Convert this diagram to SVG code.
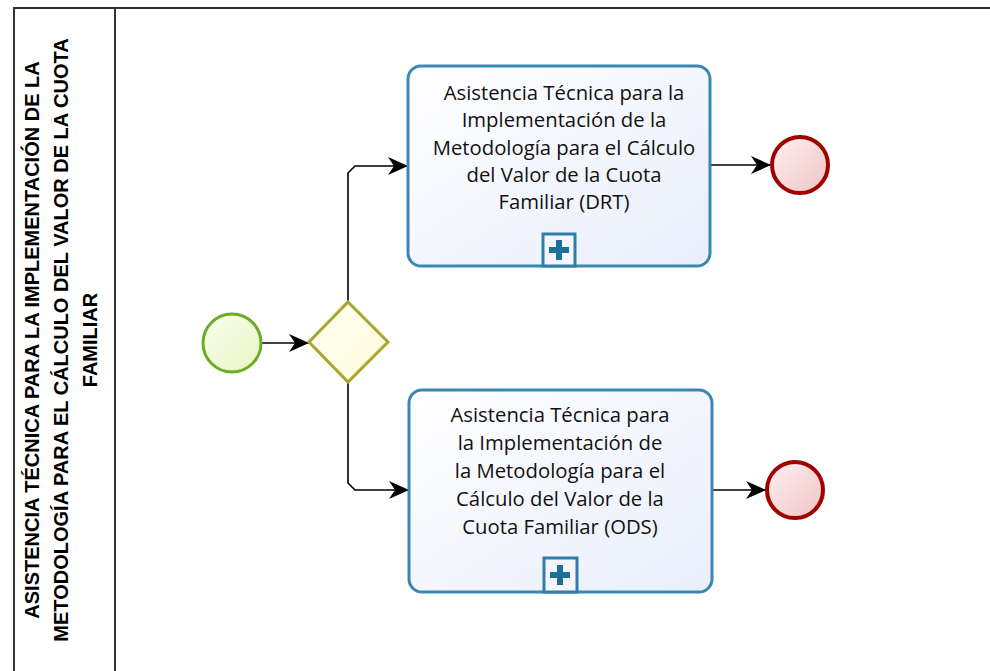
<svg xmlns="http://www.w3.org/2000/svg" width="990" height="671" viewBox="0 0 990 671">
<defs>
<style>
.pool{fill:none;stroke:#333;stroke-width:2}
.lane{font-family:"Liberation Sans",Arial,sans-serif;font-weight:bold;font-size:20px;fill:#000;text-anchor:middle}
.task{fill:url(#gTask);stroke:#3a87b3;stroke-width:3}
.tt{font-family:"Open Sans","DejaVu Sans",sans-serif;font-size:20.3px;fill:#111;text-anchor:middle}
.flow{fill:none;stroke:#000;stroke-width:1.6}
.sub{fill:#f4f6fc;stroke:#2f7eaa;stroke-width:3}
.plus{fill:#1f6f9c}
</style>
<linearGradient id="gTask" x1="0" y1="0" x2="1" y2="1"><stop offset="0" stop-color="#ffffff"/><stop offset="1" stop-color="#e9eefb"/></linearGradient>
<linearGradient id="gStart" x1="0" y1="0" x2="1" y2="1"><stop offset="0" stop-color="#fbfff0"/><stop offset="1" stop-color="#e6f5c0"/></linearGradient>
<linearGradient id="gGate" x1="0" y1="0" x2="1" y2="1"><stop offset="0" stop-color="#fffff4"/><stop offset="1" stop-color="#fdfbd8"/></linearGradient>
<linearGradient id="gEnd" x1="0" y1="0" x2="1" y2="1"><stop offset="0" stop-color="#fdf0f0"/><stop offset="1" stop-color="#f0c4c4"/></linearGradient>
<marker id="arr" markerUnits="userSpaceOnUse" markerWidth="22" markerHeight="20" refX="20" refY="9" orient="auto">
<path d="M0,0 L20,9 L0,18 L6,9 z" fill="#000"/>
</marker>
</defs>
<rect width="990" height="671" fill="#fff"/>
<g id="pool">
<path class="pool" d="M14,672 V8 H992"/>
<path class="pool" d="M115,8 V672"/>
<text class="lane" transform="translate(0,340) rotate(-90)"><tspan x="0" y="39">ASISTENCIA TÉCNICA PARA LA IMPLEMENTACIÓN DE LA</tspan><tspan x="0" y="68">METODOLOGÍA PARA EL CÁLCULO DEL VALOR DE LA CUOTA</tspan><tspan x="0" y="97">FAMILIAR</tspan></text>
</g>
<g id="connectors">
<path class="flow" d="M262,343 H309" marker-end="url(#arr)"/>
<path class="flow" d="M348,302 V173 L355,166 H408" marker-end="url(#arr)"/>
<path class="flow" d="M348,382 V483 L355,490 H409" marker-end="url(#arr)"/>
<path class="flow" d="M710,165 H771" marker-end="url(#arr)"/>
<path class="flow" d="M712,490 H766" marker-end="url(#arr)"/>
</g>
<g id="start">
<circle cx="232" cy="343" r="29" fill="url(#gStart)" stroke="#6aac22" stroke-width="3"/>
</g>
<g id="gateway">
<path d="M348,302 L388,342 L348,382 L309,342 z" fill="url(#gGate)" stroke="#aaa530" stroke-width="3"/>
</g>
<g id="task1">
<rect class="task" x="408" y="66" width="302" height="200" rx="13"/>
<text class="tt"><tspan x="564" y="100">Asistencia Técnica para la</tspan><tspan x="564" y="127">Implementación de la</tspan><tspan x="564" y="155">Metodología para el Cálculo</tspan><tspan x="564" y="182">del Valor de la Cuota</tspan><tspan x="564" y="209">Familiar (DRT)</tspan></text>
<rect class="sub" x="543" y="234" width="32" height="32"/>
<path class="plus" d="M556,240 h6 v7 h7 v6 h-7 v7 h-6 v-7 h-7 v-6 h7 z"/>
</g>
<g id="task2">
<rect class="task" x="409" y="390" width="303" height="202" rx="13"/>
<text class="tt"><tspan x="560" y="422">Asistencia Técnica para</tspan><tspan x="560" y="450">la Implementación de</tspan><tspan x="560" y="478">la Metodología para el</tspan><tspan x="560" y="506">Cálculo del Valor de la</tspan><tspan x="560" y="534">Cuota Familiar (ODS)</tspan></text>
<rect class="sub" x="544" y="558" width="33" height="34"/>
<path class="plus" d="M557,565 h6 v7 h7 v6 h-7 v7 h-6 v-7 h-7 v-6 h7 z"/>
</g>
<g id="end1">
<circle cx="800" cy="165" r="28" fill="url(#gEnd)" stroke="#a00000" stroke-width="4"/>
</g>
<g id="end2">
<circle cx="795" cy="490" r="28" fill="url(#gEnd)" stroke="#a00000" stroke-width="4"/>
</g>
</svg>
